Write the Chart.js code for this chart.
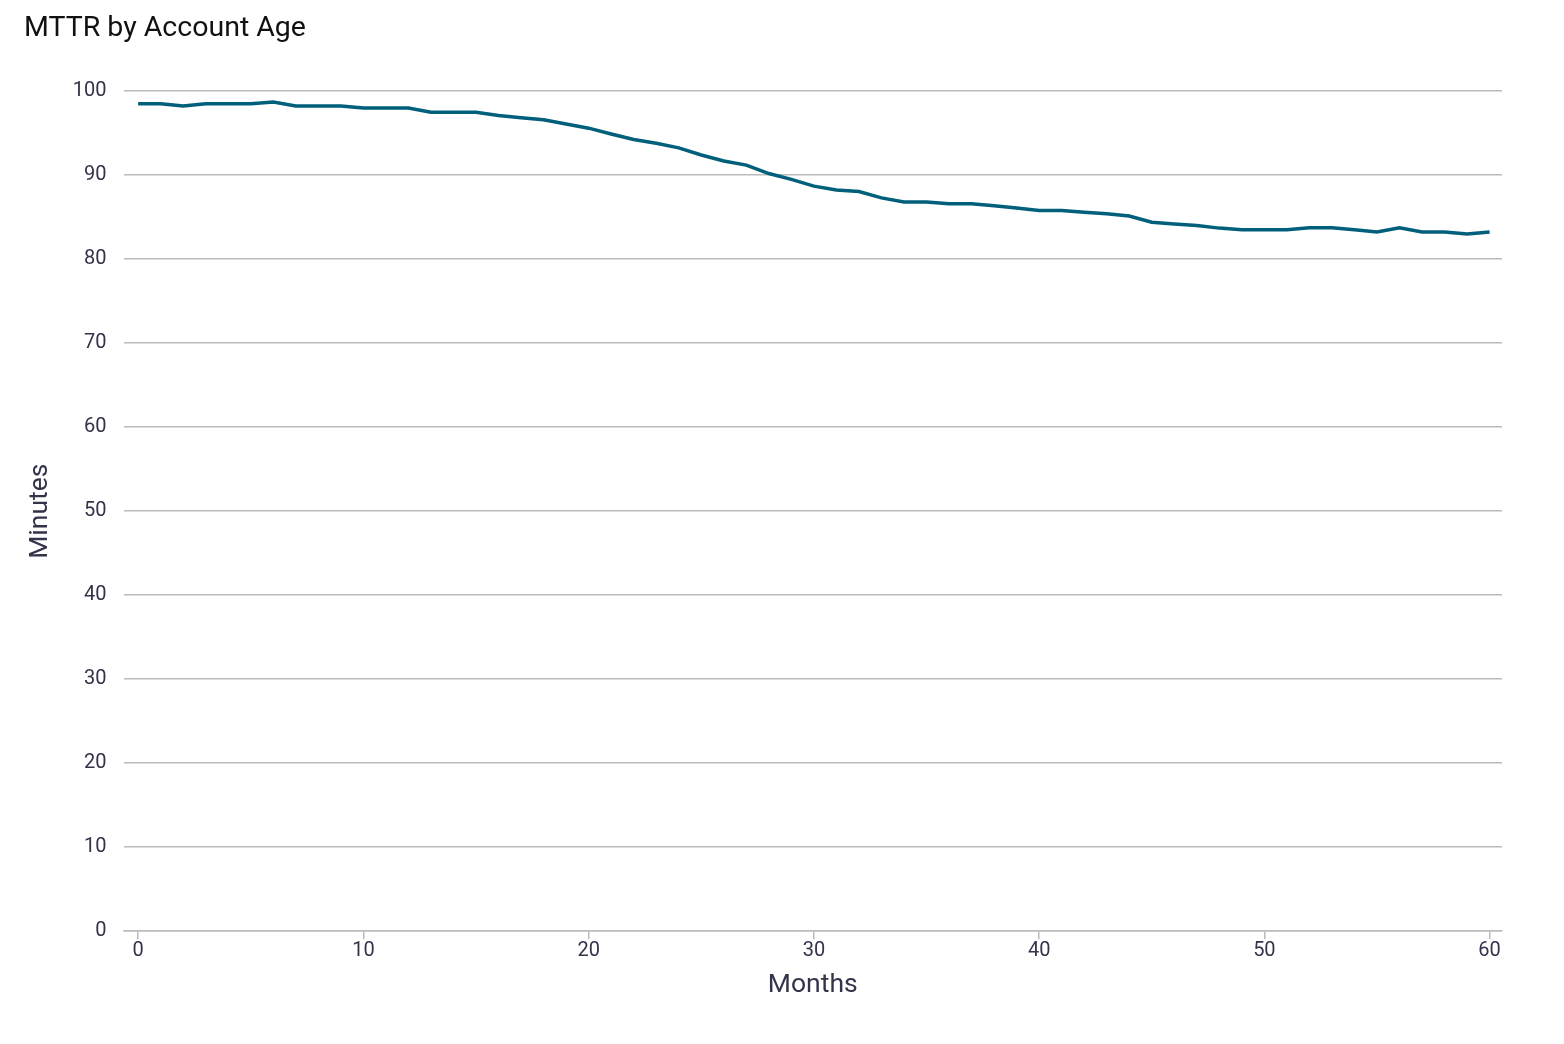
<!DOCTYPE html>
<html lang="en">
<head>
  <meta charset="UTF-8" />
  <title>MTTR by Account Age</title>
  <script src="https://cdn.jsdelivr.net/npm/chart.js"></script>
  <style>
    html, body { margin: 0; padding: 0; background: #fff; }
    .wrap { width: 1564px; height: 1044px; position: relative; }
  </style>
</head>
<body>
  <div class="wrap">
    <canvas id="grafico_mttr"></canvas>
  </div>

<script>
  // months of account age
  var meses = [];
  for (var m = 0; m <= 60; m++) meses.push(m);

  // MTTR in minutes
  var minutos = [
    98.5, 98.5, 98.25, 98.5, 98.5, 98.5, 98.7, 98.25, 98.25, 98.25,
    98.0, 98.0, 98.0, 97.5, 97.5, 97.5, 97.1, 96.85, 96.6, 96.1,
    95.6, 94.9, 94.25, 93.8, 93.25, 92.4, 91.7, 91.2, 90.2, 89.5,
    88.7, 88.25, 88.05, 87.3, 86.8, 86.8, 86.6, 86.6, 86.35, 86.1,
    85.8, 85.8, 85.6, 85.4, 85.15, 84.4, 84.2, 84.0, 83.7, 83.5,
    83.5, 83.5, 83.75, 83.75, 83.5, 83.25, 83.75, 83.25, 83.25, 83.0,
    83.25
  ];

  var ticksX = [0, 10, 20, 30, 40, 50, 60];
  var ticksY = [0, 10, 20, 30, 40, 50, 60, 70, 80, 90, 100];

  var fonte = "Roboto, 'DejaVu Sans', sans-serif";
  var corTexto = "#33334a";
  var corGrade = "#bbbbbb";

  const ctx = document.getElementById("grafico_mttr").getContext("2d");

  const dados = {
    datasets: [{
      label: "MTTR",
      data: meses.map(function (m, i) { return { x: m, y: minutos[i] }; }),
      borderColor: "#005f7a",
      borderWidth: 3.5,
      pointRadius: 0,
      tension: 0,
      fill: false
    }]
  };

  const config = {
    type: "line",
    data: dados,
    options: {
      responsive: true,
      maintainAspectRatio: false,
      animation: false,
      layout: { padding: { left: 24, right: 62, top: 0, bottom: 39 } },
      plugins: {
        legend: { display: false },
        tooltip: { enabled: false },
        title: {
          display: true,
          text: "MTTR by Account Age",
          align: "start",
          color: "#111",
          font: { family: fonte, size: 28.5, weight: "normal" },
          padding: { top: 12, bottom: 45 }
        }
      },
      scales: {
        x: {
          type: "linear",
          min: -0.65,
          max: 60.55,
          afterBuildTicks: function (scale) {
            scale.ticks = ticksX.map(function (v) { return { value: v }; });
          },
          ticks: { color: corTexto, font: { family: fonte, size: 20 }, padding: 0, maxRotation: 0 },
          grid: { drawOnChartArea: false, drawTicks: true, tickLength: 8, color: corGrade, lineWidth: 1.5 },
          border: { display: true, color: corGrade, width: 1.5 },
          title: { display: true, text: "Months", color: corTexto, font: { family: fonte, size: 26.5 }, padding: { top: 6 } }
        },
        y: {
          min: 0,
          max: 100,
          afterBuildTicks: function (scale) {
            scale.ticks = ticksY.map(function (v) { return { value: v }; });
          },
          ticks: { color: corTexto, font: { family: fonte, size: 20 }, padding: 17 },
          grid: { drawTicks: false, color: corGrade, lineWidth: 1.5 },
          border: { display: false },
          title: { display: true, text: "Minutes", color: corTexto, font: { family: fonte, size: 26.5 }, padding: { top: 0, bottom: 0 } }
        }
      }
    }
  };

  new Chart(ctx, config);
</script>
</body>
</html>
